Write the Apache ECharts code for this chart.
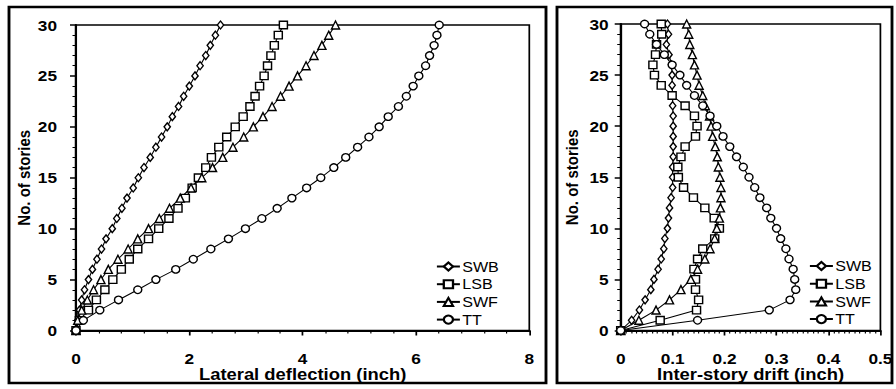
<!DOCTYPE html>
<html><head><meta charset="utf-8">
<script src="https://cdn.jsdelivr.net/npm/echarts@6/dist/echarts.min.js"></script>
<style>
html,body{margin:0;padding:0;background:#fff;overflow:hidden}
#wrap{width:896px;height:389px;overflow:hidden}
#c{width:779px;height:389px;transform:scaleX(1.15);transform-origin:0 0}
</style>
</head><body><div id="wrap"><div id="c"></div></div>
<script>
const stories = [0,1,2,3,4,5,6,7,8,9,10,11,12,13,14,15,16,17,18,19,20,21,22,23,24,25,26,27,28,29,30];
const seriesNames = ['SWB','LSB','SWF','TT'];
const leftTicks = [0,2,4,6,8];
const rightTicks = [0,0.1,0.2,0.3,0.4,0.5];
// Lateral deflection (inch)
const defSWB = [0,0.03,0.06,0.1,0.15,0.22,0.29,0.37,0.45,0.53,0.64,0.72,0.81,0.9,1.01,1.10,1.20,1.31,1.41,1.51,1.61,1.70,1.81,1.90,2.0,2.10,2.19,2.29,2.37,2.46,2.55];
const defLSB = [0,0.06,0.22,0.36,0.51,0.65,0.80,0.94,1.09,1.28,1.46,1.64,1.80,1.93,2.05,2.16,2.29,2.39,2.52,2.66,2.81,2.95,3.07,3.16,3.24,3.32,3.38,3.44,3.50,3.57,3.66];
const defSWF = [0,0.03,0.10,0.20,0.31,0.44,0.57,0.74,0.92,1.09,1.28,1.47,1.65,1.84,2.03,2.22,2.41,2.59,2.77,2.96,3.13,3.30,3.46,3.61,3.76,3.91,4.06,4.20,4.34,4.46,4.58];
const defTT  = [0,0.13,0.42,0.75,1.09,1.41,1.76,2.07,2.38,2.69,2.99,3.28,3.55,3.81,4.07,4.32,4.55,4.76,4.97,5.17,5.35,5.51,5.69,5.83,5.95,6.05,6.17,6.24,6.32,6.37,6.41];
// Inter-story drift (inch)
const drSWB = [0,0.021,0.036,0.047,0.058,0.064,0.072,0.078,0.083,0.085,0.090,0.092,0.094,0.097,0.100,0.100,0.100,0.101,0.101,0.101,0.101,0.101,0.100,0.100,0.099,0.099,0.098,0.093,0.088,0.092,0.090];
const drLSB = [0,0.076,0.146,0.150,0.144,0.144,0.141,0.148,0.158,0.181,0.190,0.180,0.162,0.140,0.121,0.111,0.110,0.116,0.124,0.144,0.147,0.142,0.124,0.099,0.078,0.065,0.062,0.067,0.069,0.079,0.078];
const drSWF = [0,0.035,0.068,0.094,0.116,0.135,0.148,0.162,0.172,0.181,0.185,0.190,0.192,0.193,0.193,0.191,0.188,0.186,0.182,0.177,0.174,0.171,0.163,0.158,0.151,0.147,0.142,0.138,0.133,0.131,0.127];
const drTT  = [0,0.148,0.286,0.326,0.337,0.335,0.332,0.324,0.318,0.308,0.300,0.289,0.281,0.268,0.258,0.247,0.236,0.223,0.210,0.197,0.185,0.172,0.158,0.142,0.127,0.114,0.099,0.084,0.069,0.056,0.046];

const S = 1.15; // horizontal stretch of the original figure
const X = px => px / S;
const symbols = ['diamond','rect','triangle','circle'];
const symSizes = [[5.5,8],[7,7.5],[7,8],[7,7.5]];
const FONT = 'Liberation Sans, Arial, sans-serif';

function mk(name, xs, idx, gi){
  return {
    name: name, type:'line', xAxisIndex: gi, yAxisIndex: gi,
    data: xs.map((v,i)=>[v, stories[i]]),
    symbol: symbols[idx], symbolSize: symSizes[idx], showSymbol:true,
    lineStyle:{color:'#000', width:1},
    itemStyle:{color:'#fff', borderColor:'#000', borderWidth:1.3},
    animation:false, z: 3
  };
}
const leftSets = [defSWB, defLSB, defSWF, defTT];
const rightSets = [drSWB, drLSB, drSWF, drTT];
const series = [];
leftSets.forEach((d,i)=>series.push(mk(seriesNames[i], d, i, 0)));
rightSets.forEach((d,i)=>series.push(mk(seriesNames[i], d, i, 1)));

const labelStyle = {color:'#000', fontFamily:FONT, fontWeight:'bold', fontSize:15, lineHeight:13};
function yAxis(gi, margin, gap){
  return {gridIndex:gi, type:'value', min:0, max:30, interval:5,
    axisLine:{show:true, lineStyle:{color:'#000', width:2}},
    axisTick:{show:true, inside:false, length:X(6), lineStyle:{color:'#000', width:1.5}},
    minorTick:{show:true, splitNumber:5, length:X(3.5), lineStyle:{color:'#000', width:1}},
    splitLine:{show:false},
    axisLabel:Object.assign({margin:margin}, labelStyle),
    name:'No. of stories', nameLocation:'middle', nameGap:gap, nameMoveOverlap:false,
    nameTextStyle:{color:'#000', fontFamily:FONT, fontWeight:'bold', fontSize:15}
  };
}
function xAxis(gi, ticks, minorSplit, name){
  const interval = ticks[1]-ticks[0];
  return {gridIndex:gi, type:'value', min:ticks[0], max:ticks[ticks.length-1], interval:interval,
    axisLine:{show:true, onZero:false, lineStyle:{color:'#000', width:2}},
    axisTick:{show:true, inside:false, length:5, lineStyle:{color:'#000', width:1.5}},
    minorTick:{show:true, splitNumber:minorSplit, length:3, lineStyle:{color:'#000', width:1}},
    splitLine:{show:false},
    axisLabel:Object.assign({margin:21, formatter:v=>{
      let best = ticks.reduce((a,b)=>Math.abs(b-v)<Math.abs(a-v)?b:a); return String(best);}}, labelStyle),
    name:name, nameLocation:'middle', nameGap:37, nameMoveOverlap:false,
    nameTextStyle:{color:'#000', fontFamily:FONT, fontWeight:'bold', fontSize:16, lineHeight:14}
  };
}

const chart = echarts.init(document.getElementById('c'), null, {renderer:'svg', width:779, height:389});
const legendCommon = {data:seriesNames, orient:'vertical', itemGap:3.7, itemWidth:X(23), itemHeight:10,
  textStyle:{color:'#000', fontFamily:FONT, fontSize:14, lineHeight:14, padding:[0,0,0,-3]}, selectedMode:false};
chart.setOption({
  backgroundColor:'#fff',
  animation:false,
  grid:[
    {left:X(76), top:25, width:X(453.3), height:305.5, show:true, borderColor:'#000', borderWidth:1.5, containLabel:false},
    {left:X(620.7), top:24, width:X(260.5), height:306.5, show:true, borderColor:'#000', borderWidth:1.5, containLabel:false}
  ],
  xAxis:[
    xAxis(0, leftTicks, 5, 'Lateral deflection (inch)'),
    xAxis(1, rightTicks, 10, 'Inter-story drift (inch)')
  ],
  yAxis:[ yAxis(0, X(19), 38.5), yAxis(1, X(12), 35.5) ],
  legend:[
    Object.assign({left:X(430), top:254.5}, legendCommon),
    Object.assign({left:X(803), top:254}, legendCommon)
  ],
  graphic:[
    {type:'rect', shape:{x:X(9), y:7, width:X(537), height:376}, style:{fill:'none', stroke:'#000', lineWidth:2.5}, silent:true},
    {type:'rect', shape:{x:X(557), y:7, width:X(335), height:376}, style:{fill:'none', stroke:'#000', lineWidth:2.5}, silent:true}
  ],
  series: series
});
</script></body></html>
